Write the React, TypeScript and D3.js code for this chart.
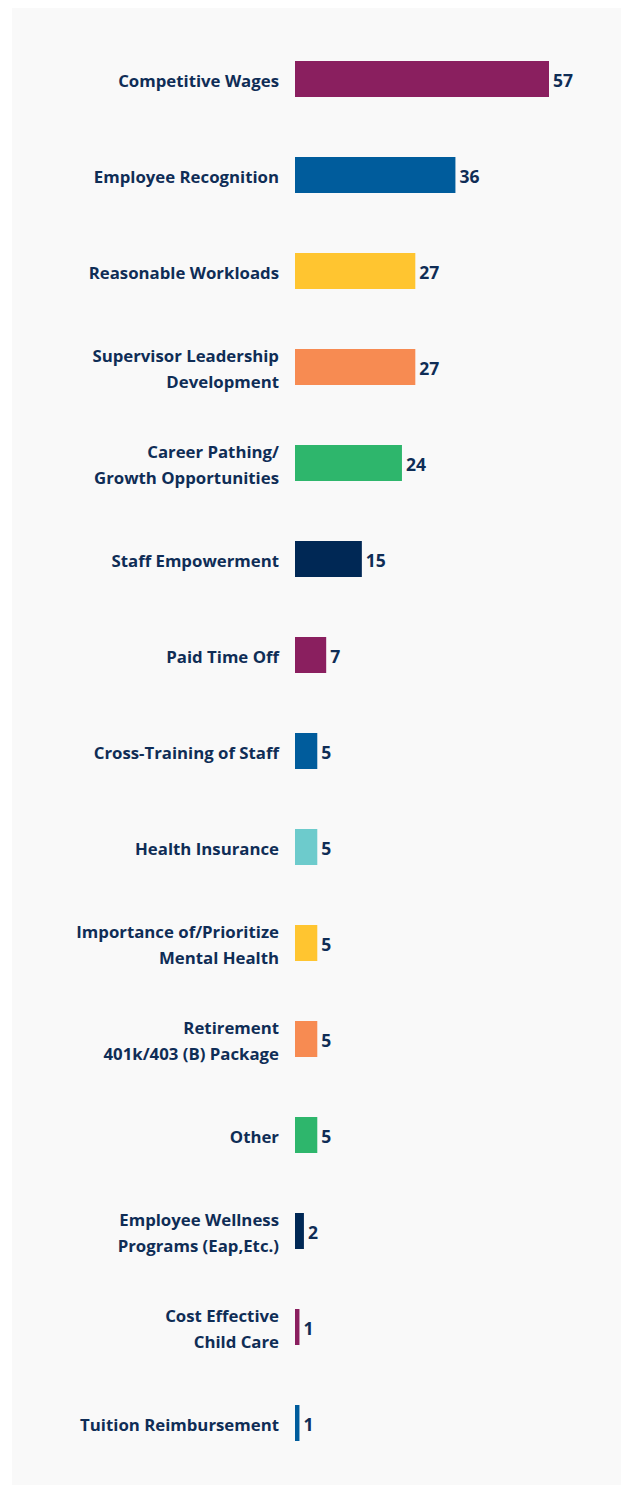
import React from "react";
import * as d3 from "d3";

const categories = [
  "Competitive Wages",
  "Employee Recognition",
  "Reasonable Workloads",
  "Supervisor Leadership\nDevelopment",
  "Career Pathing/\nGrowth Opportunities",
  "Staff Empowerment",
  "Paid Time Off",
  "Cross-Training of Staff",
  "Health Insurance",
  "Importance of/Prioritize\nMental Health",
  "Retirement\n401k/403 (B) Package",
  "Other",
  "Employee Wellness\nPrograms (Eap,Etc.)",
  "Cost Effective\nChild Care",
  "Tuition Reimbursement",
];
const values = [57, 36, 27, 27, 24, 15, 7, 5, 5, 5, 5, 5, 2, 1, 1];
const colors = [
  "#8a1f5f", "#005c9c", "#ffc530", "#f78b52", "#2eb66c", "#002855",
  "#8a1f5f", "#005c9c", "#6dcbcc", "#ffc530", "#f78b52", "#2eb66c",
  "#002855", "#8a1f5f", "#005c9c",
];

const W = 621;
const H = 1485;
const TEXT = "#0f2d56";
const FONT = "'Open Sans', sans-serif";

export default function App() {
  const x = d3.scaleLinear().domain([0, 57]).range([295, 549]);
  const y = d3
    .scaleBand<string>()
    .domain(categories)
    .range([31, 31 + 96 * categories.length])
    .paddingInner(0.625)
    .paddingOuter(0.3125);

  return (
    <svg
      width={W}
      height={H}
      style={{ position: "absolute", left: 0, top: 0 }}
      fontFamily={FONT}
    >
      <rect x={0} y={0} width={W} height={H} fill="#ffffff" />
      <rect x={12} y={8} width={W - 12} height={H - 8} fill="#f9f9f9" />
      {categories.map((c, i) => {
        const y0 = y(c)!;
        const cy = y0 + y.bandwidth() / 2;
        const lines = c.split("\n");
        const w = Math.max(1, x(values[i]) - x(0));
        const base = lines.length === 1 ? [cy + 7.5] : [cy - 4.7, cy + 21.3];
        return (
          <g key={c}>
            <rect x={x(0)} y={y0} width={w} height={y.bandwidth()} fill={colors[i]} />
            <text
              x={x(values[i]) + 4}
              y={cy + 8}
              fill={TEXT}
              fontSize={17.5}
              fontWeight={700}
            >
              {values[i]}
            </text>
            <text textAnchor="end" fill={TEXT} fontSize={16.8} fontWeight={700}>
              {lines.map((l, k) => (
                <tspan key={k} x={279} y={base[k]}>
                  {l}
                </tspan>
              ))}
            </text>
          </g>
        );
      })}
    </svg>
  );
}
